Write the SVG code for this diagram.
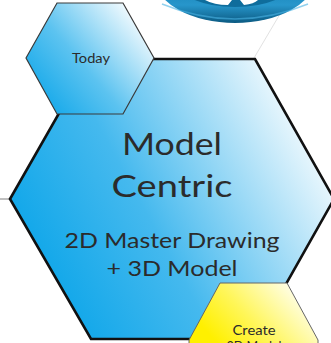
<svg xmlns="http://www.w3.org/2000/svg" width="331" height="343" viewBox="0 0 331 343">
<defs>
<linearGradient id="gBlue" x1="0.05" y1="0.75" x2="1" y2="0.3">
<stop offset="0" stop-color="#0ba5e9"/>
<stop offset="0.4" stop-color="#45b9ee"/>
<stop offset="1" stop-color="#ffffff"/>
</linearGradient>
<linearGradient id="gSmall" x1="0" y1="0.85" x2="0.95" y2="0.15">
<stop offset="0" stop-color="#0ba5e9"/>
<stop offset="0.45" stop-color="#5cc3f0"/>
<stop offset="1" stop-color="#ffffff"/>
</linearGradient>
<linearGradient id="gYellow" x1="0.1" y1="0.7" x2="1" y2="0.3">
<stop offset="0" stop-color="#fff000"/>
<stop offset="0.4" stop-color="#fff65a"/>
<stop offset="1" stop-color="#ffffff"/>
</linearGradient>
<linearGradient id="gRing" x1="0" y1="0" x2="0" y2="1">
<stop offset="0" stop-color="#0d6896"/>
<stop offset="0.55" stop-color="#1680b4"/>
<stop offset="0.8" stop-color="#2796cb"/>
<stop offset="1" stop-color="#0b5a82"/>
</linearGradient>
<style>
.t{font-family:Lato,"Open Sans","Liberation Sans",sans-serif;fill:#2b2b2b;text-anchor:middle}
.big{font-size:31px}
.mid{font-size:21px}
.sm{font-size:12.5px}
</style>
</defs>
<rect width="331" height="343" fill="#ffffff"/>
<g id="connectors">
<line x1="0" y1="199" x2="10" y2="199" stroke="#808080" stroke-width="1"/>
<line x1="254" y1="58" x2="280" y2="14" stroke="#e2e2e2" stroke-width="1"/>
</g>
<g id="ring">
<ellipse cx="235" cy="-22" rx="80" ry="45" fill="url(#gRing)"/>
<ellipse cx="235" cy="-20" rx="60" ry="27" fill="#0f6d9c"/>
<path d="M205,0 Q214,5 228,5 L232,0 Z M240,0 L244,5 Q254,4 258,0 Z" fill="#ffffff"/>
<path d="M162,4 Q235,34 308,4" fill="none" stroke="#4ab2e2" stroke-width="1.5" opacity="0.6"/>
</g>
<g id="node-model-centric">
<polygon points="10,199 90,59 255,59 334,199 255,339 91,339" fill="url(#gBlue)" stroke="#111111" stroke-width="2.6" stroke-linejoin="miter"/>
<text class="t big" x="172" y="155" textLength="100" lengthAdjust="spacingAndGlyphs">Model</text>
<text class="t big" x="172" y="197" textLength="121" lengthAdjust="spacingAndGlyphs">Centric</text>
<text class="t mid" x="172" y="248" textLength="215" lengthAdjust="spacingAndGlyphs">2D Master Drawing</text>
<text class="t mid" x="172" y="276" textLength="131" lengthAdjust="spacingAndGlyphs">+ 3D Model</text>
</g>
<g id="node-today">
<polygon points="26,58 57,3 123,3 154,58 123,114 57,114" fill="url(#gSmall)" stroke="#3a3a3a" stroke-width="1.2"/>
<text class="t sm" x="91" y="63" textLength="38" lengthAdjust="spacingAndGlyphs">Today</text>
</g>
<g id="node-create">
<polygon points="220,283 287,283 318,340 318,345 189,345 189,340" fill="url(#gYellow)" stroke="#666666" stroke-width="1"/>
<text class="t sm" x="254" y="335" textLength="43" lengthAdjust="spacingAndGlyphs">Create</text>
<text class="t sm" x="254" y="351">3D Model</text>
</g>
</svg>
